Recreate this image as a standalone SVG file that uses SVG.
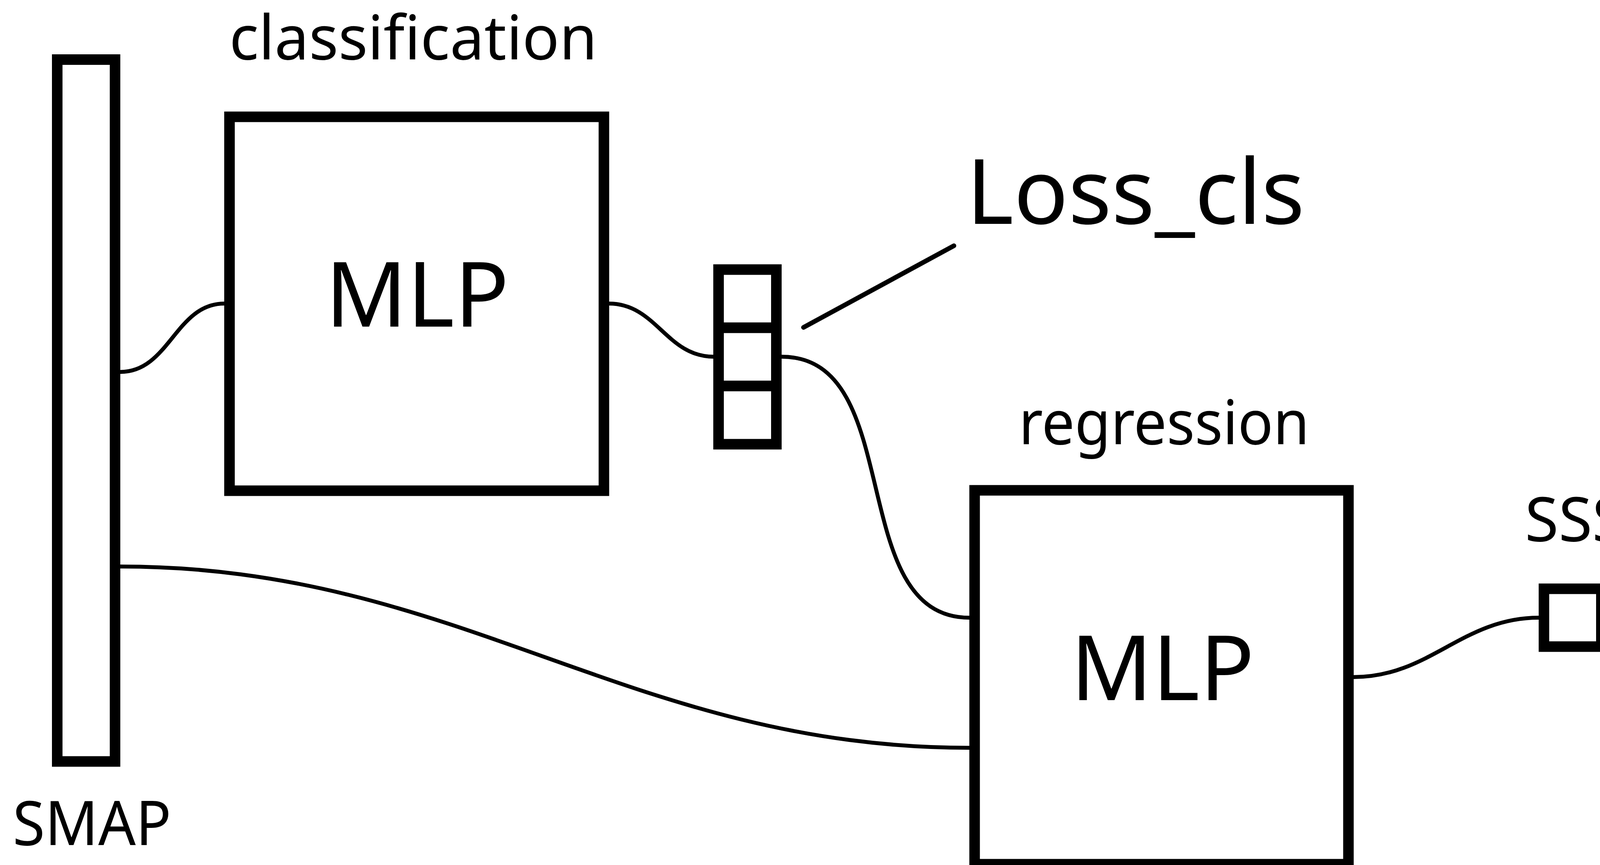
<svg xmlns="http://www.w3.org/2000/svg" width="5778" height="2214" viewBox="0 0 5778 2214">
<style>
.box{fill:#fff;stroke:#000;stroke-width:27}
.big{font-family:"Noto Sans",sans-serif;font-size:231px;fill:#000}
.lbl{font-family:"Noto Sans",sans-serif;font-size:157px;fill:#000}
.c{fill:none;stroke:#000;stroke-width:10}
.ln{fill:none;stroke:#000;stroke-width:12;stroke-linecap:round}
</style>
<rect width="5778" height="2214" fill="#fff"/>
<g id="connectors">
<path class="c" d="M308,952 C433,952 450,777 574,777"/>
<path class="c" d="M1559,777 C1680,777 1706,913 1827,913"/>
<path class="c" d="M2001,913 C2323,913 2160,1581 2482,1581"/>
<path class="c" d="M308,1450 C1178,1450 1612,1914 2482,1914"/>
<path class="c" d="M3465,1733 C3660,1733 3744,1581 3939,1581"/>
<line class="ln" x1="2057" y1="838" x2="2442" y2="629"/>
<line class="ln" x1="4226" y1="1589" x2="4713" y2="1448"/>
</g>
<g id="smap">
<rect class="box" x="146.5" y="152.5" width="148" height="1796.5"/>
<text class="lbl" x="235.5" y="2163" text-anchor="middle" textLength="406" lengthAdjust="spacingAndGlyphs">SMAP</text>
</g>
<g id="mlp-cls">
<rect class="box" x="587.5" y="299" width="958.5" height="957"/>
<text class="big" x="1068" y="836" text-anchor="middle">MLP</text>
<text class="lbl" x="1058" y="152" text-anchor="middle">classification</text>
</g>
<g id="vec-cls">
<rect class="box" x="1839.5" y="690" width="148" height="149"/>
<rect class="box" x="1839.5" y="839" width="148" height="149"/>
<rect class="box" x="1839.5" y="988" width="148" height="149"/>
</g>
<g id="loss-cls">
<text class="big" x="2907" y="573" text-anchor="middle">Loss_cls</text>
</g>
<g id="mlp-reg">
<rect class="box" x="2495" y="1255" width="957" height="957"/>
<text class="big" x="2976" y="1792" text-anchor="middle">MLP</text>
<text class="lbl" x="2980" y="1137" text-anchor="middle" textLength="744" lengthAdjust="spacingAndGlyphs">regression</text>
</g>
<g id="sss">
<rect class="box" x="3952.5" y="1507" width="147" height="148"/>
<text class="lbl" x="4033" y="1385" text-anchor="middle">SSS</text>
</g>
<g id="loss-reg">
<text class="big" x="5266" y="1433.5" text-anchor="middle">Loss_reg</text>
</g>
</svg>
